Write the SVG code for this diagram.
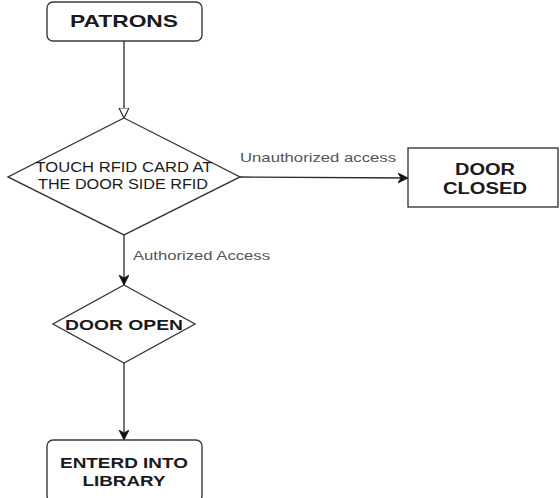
<svg xmlns="http://www.w3.org/2000/svg" width="560" height="498" viewBox="0 0 560 498">
<style>
.box{fill:#fff;stroke:#3a3a3a;stroke-width:1.4}
.edge{fill:none;stroke:#2a2a2a;stroke-width:1.3}
.t{font-family:"Liberation Sans",Arial,sans-serif;text-anchor:middle;fill:#1a1a1a}
.b{font-weight:bold}
.lbl{font-family:"Liberation Sans",Arial,sans-serif;fill:#555;font-size:13px}
</style>
<defs>
<marker id="open" markerWidth="12" markerHeight="12" refX="10" refY="5" orient="auto" markerUnits="userSpaceOnUse" viewBox="0 0 12 12">
<path d="M0,0 L10,5 L0,10 Z" fill="#fff" stroke="#2a2a2a" stroke-width="1.2"/>
</marker>
<marker id="fill" markerWidth="12" markerHeight="12" refX="10" refY="5" orient="auto" markerUnits="userSpaceOnUse" viewBox="0 0 12 12">
<path d="M0,0 L10,5 L0,10 L3,5 Z" fill="#111" stroke="#111" stroke-width="0.8"/>
</marker>
</defs>
<rect width="560" height="498" fill="#fff"/>
<g id="connectors">
<path class="edge" d="M124,41 L124,118" marker-end="url(#open)"/>
<path class="edge" d="M240,177 L408,178" marker-end="url(#fill)"/>
<path class="edge" d="M124,235 L124,285" marker-end="url(#fill)"/>
<path class="edge" d="M124,363 L124,440" marker-end="url(#fill)"/>
<text class="lbl" x="240" y="162" textLength="156" lengthAdjust="spacingAndGlyphs">Unauthorized access</text>
<text class="lbl" x="133" y="260" textLength="137" lengthAdjust="spacingAndGlyphs">Authorized Access</text>
</g>
<g id="patrons">
<rect class="box" x="47" y="2" width="155" height="39" rx="6"/>
<text class="t b" x="124" y="27" font-size="17" textLength="108" lengthAdjust="spacingAndGlyphs">PATRONS</text>
</g>
<g id="touch">
<path class="box" d="M124,118 L240,177 L124,235 L8,177 Z"/>
<text class="t" x="124" y="172" font-size="14" textLength="177" lengthAdjust="spacingAndGlyphs">TOUCH RFID CARD AT</text>
<text class="t" x="123" y="189" font-size="14" textLength="170" lengthAdjust="spacingAndGlyphs">THE DOOR SIDE RFID</text>
</g>
<g id="closed">
<rect class="box" x="408" y="148" width="150" height="59"/>
<text class="t b" x="485" y="175" font-size="16" textLength="60" lengthAdjust="spacingAndGlyphs">DOOR</text>
<text class="t b" x="485" y="194" font-size="16" textLength="84" lengthAdjust="spacingAndGlyphs">CLOSED</text>
</g>
<g id="open-door">
<path class="box" d="M124,285 L195,324 L124,363 L53,324 Z"/>
<text class="t b" x="124" y="330" font-size="14" textLength="118" lengthAdjust="spacingAndGlyphs">DOOR OPEN</text>
</g>
<g id="enter">
<rect class="box" x="47" y="440" width="155" height="62" rx="6"/>
<text class="t b" x="124" y="468" font-size="15" textLength="128" lengthAdjust="spacingAndGlyphs">ENTERD INTO</text>
<text class="t b" x="124" y="486" font-size="15" textLength="83" lengthAdjust="spacingAndGlyphs">LIBRARY</text>
</g>
</svg>
